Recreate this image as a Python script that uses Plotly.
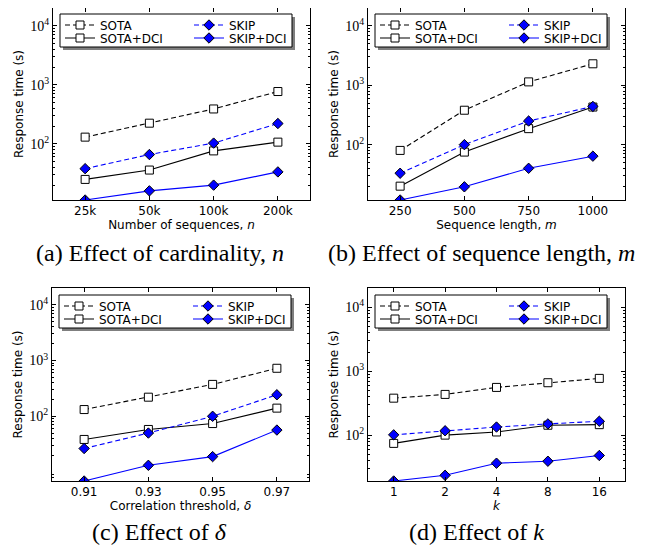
import math
import plotly.graph_objects as go

# ---------------- data ----------------
A_x = ["25k", "50k", "100k", "200k"]
A_sota = [130, 224, 390, 770]
A_skip = [38, 66, 103, 221]
A_sota_dci = [25, 36, 76, 107]
A_skip_dci = [11.2, 16, 20, 33.5]

B_x = ["250", "500", "750", "1000"]
B_sota = [80, 380, 1140, 2300]
B_skip = [33, 100, 250, 440]
B_sota_dci = [20, 75, 186, 430]
B_skip_dci = [11.7, 19.5, 40, 64]

C_x = ["0.91", "0.93", "0.95", "0.97"]
C_sota = [132, 220, 373, 726]
C_skip = [26.4, 50, 100, 243]
C_sota_dci = [38.4, 58, 74, 140]
C_skip_dci = [6.9, 13.2, 18.9, 56.6]

D_x = ["1", "2", "4", "8", "16"]
D_sota = [381, 436, 561, 664, 776]
D_skip = [102, 118, 135, 151, 166]
D_sota_dci = [75, 101, 113, 144, 147]
D_skip_dci = [19.4, 23.8, 36.8, 39.5, 48.5]

Y_TICKS = [100, 1000, 10000]
Y_TICK_TEXT = ["10<sup>2</sup>", "10<sup>3</sup>", "10<sup>4</sup>"]
Y_MAX = 20000

X_TITLES = ["Number of sequences, <i>n</i>", "Sequence length, <i>m</i>",
            "Correlation threshold, <i>δ</i>", "<i>k</i>"]
CAPTIONS = ["(a) Effect of cardinality, <i>n</i>", "(b) Effect of sequence length, <i>m</i>",
            "(c) Effect of <i>δ</i>", "(d) Effect of <i>k</i>"]

panels = [
    (A_x, A_sota, A_skip, A_sota_dci, A_skip_dci),
    (B_x, B_sota, B_skip, B_sota_dci, B_skip_dci),
    (C_x, C_sota, C_skip, C_sota_dci, C_skip_dci),
    (D_x, D_sota, D_skip, D_sota_dci, D_skip_dci),
]

OFF = 8                      # page body margin around the plot div
W, H = 645 - OFF, 552 - OFF  # figure size
# plot areas in page pixels: (left, right, top, bottom)
boxes = [(53, 310, 8, 200), (368, 625, 8, 200), (52, 309, 288, 481), (368, 625, 288, 481)]
caption_pos = [(160, 253), (481, 253), (159, 532), (476, 532)]


def px(x):
    return (x - OFF) / W


def py(y):
    return min(1.0, max(0.0, 1 - (y - OFF) / H))


BLUE = "#0000ff"
sans = "DejaVu Sans"
serif = "Liberation Serif"

fig = go.Figure()
layout = dict(
    width=W, height=H, margin=dict(l=0, r=0, t=0, b=0),
    paper_bgcolor="white", plot_bgcolor="white",
    annotations=[], shapes=[],
)

minor_vals = [m * 10 ** e for e in range(0, 5) for m in range(2, 10)]

for i, (xs, sota, skip, sota_dci, skip_dci) in enumerate(panels):
    n = i + 1
    sfx = "" if n == 1 else str(n)
    xa, ya = "x" + sfx, "y" + sfx
    leg1 = "legend" + ("" if i == 0 else str(2 * i + 1))
    leg2 = "legend" + str(2 * i + 2)
    series = [
        ("SOTA", sota, "black", "5px,3px", "square", "white", leg1),
        ("SOTA+DCI", sota_dci, "black", "solid", "square", "white", leg2),
        ("SKIP", skip, BLUE, "5px,3px", "diamond", BLUE, leg1),
        ("SKIP+DCI", skip_dci, BLUE, "solid", "diamond", BLUE, leg2),
    ]
    for name, ys, col, dash, sym, fill, leg in series:
        fig.add_trace(go.Scatter(
            x=xs, y=ys, name=name, mode="lines+markers",
            xaxis=xa, yaxis=ya, legend=leg,
            line=dict(color=col, width=1.1, dash=dash),
            marker=dict(symbol=sym, size=8, color=fill,
                        line=dict(color="black", width=1)),
        ))
    l, r, t, b = boxes[i]
    all_vals = sota + skip + sota_dci + skip_dci
    layout["xaxis" + sfx] = dict(
        domain=[px(l), px(r)], anchor=ya, type="category",
        range=[-0.5, len(xs) - 0.5],
        showline=True, linecolor="black", linewidth=1, mirror="ticks",
        ticks="inside", ticklen=4, tickcolor="black", showgrid=False, zeroline=False,
        tickfont=dict(family=sans, size=12, color="black"),
        title=dict(text=X_TITLES[i], font=dict(family=sans, size=12, color="black"), standoff=0),
        automargin=False,
    )
    layout["yaxis" + sfx] = dict(
        domain=[py(b), py(t)], anchor=xa, type="log",
        range=[math.log10(min(all_vals)), math.log10(Y_MAX)],
        tickvals=Y_TICKS, ticktext=Y_TICK_TEXT,
        showline=True, linecolor="black", linewidth=1, mirror="ticks",
        ticks="inside", ticklen=4, tickcolor="black", showgrid=False, zeroline=False,
        minor=dict(tickvals=minor_vals, ticks="inside", ticklen=2, tickcolor="black", showgrid=False),
        tickfont=dict(family=serif, size=14, color="black"),
        title=dict(text="Response time (s)", font=dict(family=sans, size=12, color="black"), standoff=4),
        automargin=False,
    )
    # legend frame with shadow
    bl = l + 7
    bt = (7 if t < 100 else t) + 7
    bw_, bh_ = 232, 33
    layout["shapes"].append(dict(
        type="rect", xref="paper", yref="paper", layer="above",
        x0=px(bl + 3), x1=px(bl + bw_ + 3), y0=py(bt + bh_ + 3), y1=py(bt + 3),
        fillcolor="#7f7f7f", line=dict(width=0),
    ))
    layout["shapes"].append(dict(
        type="rect", xref="paper", yref="paper", layer="above",
        x0=px(bl), x1=px(bl + bw_), y0=py(bt + bh_), y1=py(bt),
        fillcolor="white", line=dict(color="black", width=1),
    ))
    for k, leg in enumerate((leg1, leg2)):
        row_center = bt + 11 + 13 * k
        layout[leg] = dict(
            x=px(bl), y=py(row_center - 14.5), xanchor="left", yanchor="top",
            orientation="h", traceorder="normal",
            bgcolor="rgba(0,0,0,0)", borderwidth=0,
            font=dict(family=sans, size=12, color="black"),
            entrywidth=84, entrywidthmode="pixels",
        )
    cx, cy = caption_pos[i]
    layout["annotations"].append(dict(
        text=CAPTIONS[i], x=px(cx), y=py(cy), xref="paper", yref="paper",
        showarrow=False, xanchor="center", yanchor="middle",
        font=dict(family=serif, size=24, color="black"),
    ))

fig.update_layout(**layout)
fig.write_html("out.html")
